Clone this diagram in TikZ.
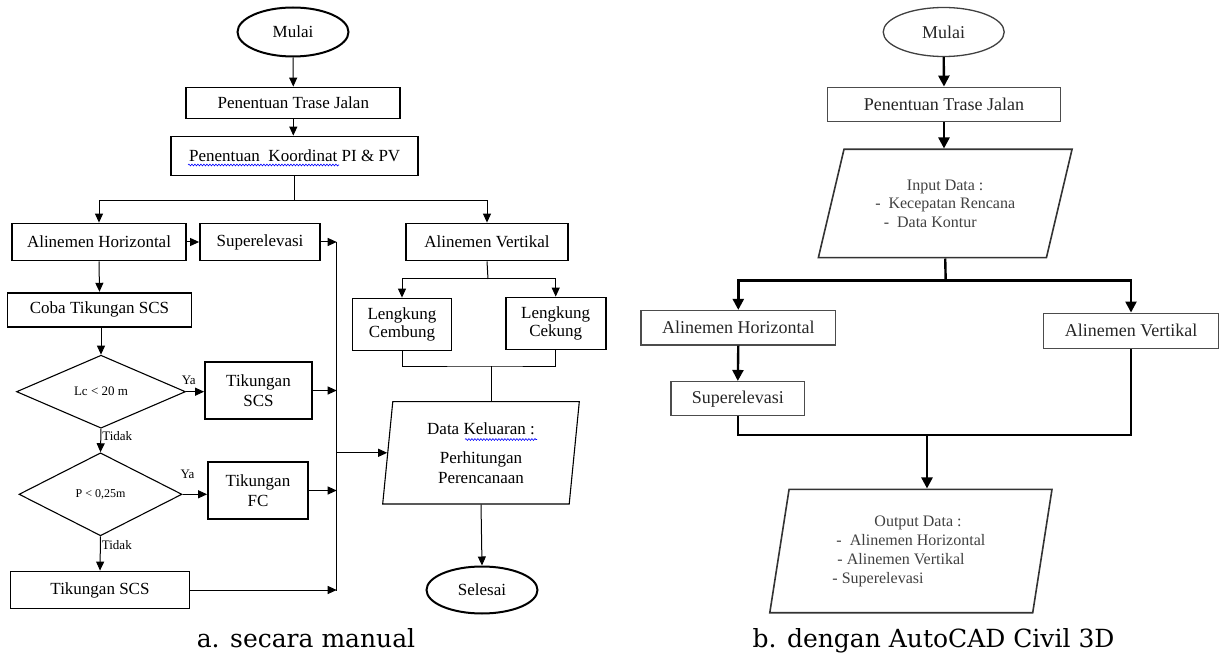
\documentclass[tikz,border=0pt]{standalone}
\usepackage{fontspec}
\setmainfont{Liberation Serif}
\newfontfamily\captionfont{DejaVu Serif}
\usetikzlibrary{shapes.geometric,arrows.meta,decorations.pathmorphing}
\tikzset{
    %chart a (manual)
    boxa/.style={draw, line width=1.8pt, inner sep=0pt, align=center, font=\fontsize{17}{20}\selectfont},
    terma/.style={ellipse, draw, line width=2pt, inner sep=0pt, font=\fontsize{17}{20}\selectfont},
    deca/.style={diamond, draw, line width=1.1pt, inner sep=0pt, font=\fontsize{13}{15}\selectfont},
    ioa/.style={trapezium, draw, line width=1.1pt, inner sep=0pt, trapezium stretches body, align=center, font=\fontsize{17}{20}\selectfont},
    linea/.style={line width=1pt},
    arra/.style={line width=1pt, -{Triangle[length=9pt,width=8pt]}},
    lbl/.style={font=\fontsize{13}{15}\selectfont, inner sep=1pt},
    spellwave/.style={blue, line width=0.6pt, decorate, decoration={snake, amplitude=0.9pt, segment length=3pt}},
    %chart b (civil 3d)
    boxb/.style={draw=black!70, line width=1.5pt, inner sep=0pt, text=black!85, font=\fontsize{18}{21}\selectfont},
    termb/.style={ellipse, draw=black!75, line width=1.3pt, inner sep=0pt, text=black!85, font=\fontsize{18}{21}\selectfont},
    iob/.style={trapezium, draw=black!80, line width=1.6pt, inner sep=0pt, trapezium stretches body, align=center, text=black!75, font=\fontsize{16}{18.5}\selectfont},
    lineb/.style={line width=2.4pt},
    arrb/.style={line width=2.4pt, -{Triangle[length=11pt,width=11pt]}},
    capt/.style={font=\captionfont\fontsize{25}{30}\selectfont, inner sep=0pt},
}
\begin{document}
\begin{tikzpicture}[x=1pt, y=-1pt]
        \useasboundingbox (0,0) rectangle (1219,655);
        %chart a: nodes
        \node[terma, minimum width=111, minimum height=49] (mulaiA) at (293,32) {Mulai};
        \node[boxa, minimum width=214, minimum height=31] (traseA) at (293.3,103) {Penentuan Trase Jalan};
        \node[boxa, minimum width=247, minimum height=39] (koorA) at (294.7,156) {Penentuan\ \ Koordinat PI \& PV};
        \node[boxa, minimum width=174, minimum height=37] (ahA) at (99,242) {Alinemen Horizontal};
        \node[boxa, minimum width=120, minimum height=37] (superA) at (260,242) {Superelevasi};
        \node[boxa, minimum width=162, minimum height=37] (avA) at (487,242) {Alinemen Vertikal};
        \node[boxa, minimum width=184, minimum height=34] (cobaA) at (99.5,309.7) {Coba Tikungan SCS};
        \node[deca, minimum width=169, minimum height=73] (dec1) at (101,391.7) {Lc < 20 m};
        \node[boxa, minimum width=107, minimum height=57] (tscsA) at (258.5,390.5) {Tikungan\\SCS};
        \node[deca, minimum width=163, minimum height=83, font=\fontsize{12}{14}\selectfont] (dec2) at (100.5,494.3) {P < 0,25m};
        \node[boxa, minimum width=100, minimum height=57] (tfcA) at (258,490.5) {Tikungan\\FC};
        \node[boxa, minimum width=179, minimum height=37] (tscs2A) at (100,590) {Tikungan SCS};
        \node[boxa, minimum width=99, minimum height=52, font=\fontsize{17}{18.5}\selectfont] (cembung) at (402,324.5) {Lengkung\\Cembung};
        \node[boxa, minimum width=100, minimum height=52, font=\fontsize{17}{18.5}\selectfont] (cekung) at (555.7,323.5) {Lengkung\\Cekung};
        \node[ioa, minimum width=196.6, minimum height=102.3, trapezium left angle=80.6, trapezium right angle=99.4] (keluaran) at (481,452.8) {Data Keluaran :\\[9pt]Perhitungan\\Perencanaan};
        \node[terma, minimum width=111, minimum height=47] (selesai) at (482,590) {Selesai};
        %spelling marks
        \draw[spellwave] (188,165) -- (339,165);
        \draw[spellwave] (465,439.5) -- (537,439.5);
        %chart a: connectors
        \draw[arra] (mulaiA.south) -- (traseA.north);
        \draw[arra] (traseA.south) -- (traseA.south |- koorA.north);
        \coordinate (brA) at (294.7,201);
        \draw[linea] (koorA.south) -- (brA);
        \draw[arra] (brA) -| (ahA.north);
        \draw[arra] (brA) -| (avA.north);
        \draw[arra] (ahA.east) -- (superA.west);
        \draw[arra] (ahA.south) -- (cobaA.north);
        \draw[arra] (dec1.north |- cobaA.south) -- (dec1.north);
        \draw[arra] (dec1.east) -- node[lbl, above=6pt, pos=0.15] {Ya} (dec1.east -| tscsA.west);
        \draw[arra] (dec1.south) -- node[lbl, right, pos=0.3] {Tidak} (dec2.north);
        \draw[arra] (dec2.east) -- node[lbl, above=14pt, pos=0.2] {Ya} (dec2.east -| tfcA.west);
        \draw[arra] (dec2.south) -- node[lbl, right, pos=0.25] {Tidak} (tscs2A.north);
        %collector line
        \coordinate (colA) at (336.7,242);
        \draw[linea] (colA) -- (336.7,590.7);
        \draw[arra] (superA.east) -- (colA);
        \draw[arra] (tscsA.east) -- (tscsA.east -| colA);
        \draw[arra] (tfcA.east) -- (tfcA.east -| colA);
        \draw[arra] (tscs2A.east) -- (tscs2A.east -| colA);
        \draw[arra] (keluaran.west -| colA) -- (keluaran.west);
        %lengkung branch
        \coordinate (lbrA) at (488,279);
        \draw[linea] (avA.south) -- (lbrA);
        \draw[arra] (lbrA) -| (cembung.north);
        \draw[arra] (lbrA) -| (cekung.north);
        \coordinate (lmrA) at (491,366);
        \draw[linea] (cembung.south) |- (lmrA) -| (cekung.south);
        \draw[linea] (lmrA) -- (lmrA |- keluaran.north);
        \draw[arra] (keluaran.south) -- (selesai.north);
        %chart b: nodes
        \node[termb, minimum width=121, minimum height=49] (mulaiB) at (943.7,32) {Mulai};
        \node[boxb, minimum width=233, minimum height=34.4] (traseB) at (944,104.5) {Penentuan Trase Jalan};
        \node[iob, minimum width=253.7, minimum height=108.4, trapezium left angle=61.7, trapezium right angle=118.3] (inputB) at (945.2,203.5) {Input Data :\\-\ \ Kecepatan Rencana\hspace*{14pt}\\-\ \ Data Kontur\hspace*{30pt}};
        \node[boxb, minimum width=194.7, minimum height=34.3] (ahB) at (738.3,327.8) {Alinemen Horizontal};
        \node[boxb, minimum width=175, minimum height=35] (avB) at (1131,330.8) {Alinemen Vertikal};
        \node[boxb, minimum width=133.5, minimum height=34] (superB) at (737.8,398.7) {Superelevasi};
        \node[iob, minimum width=282.2, minimum height=123.4, trapezium left angle=74.8, trapezium right angle=105.2, align=left, font=\fontsize{16}{19}\selectfont] (outputB) at (910.9,551) {\hspace*{38pt}Output Data :\\-\ \ Alinemen Horizontal\hspace*{12pt}\\\hspace*{1pt}-\ Alinemen Vertikal\\\hspace*{-4pt}- Superelevasi};
        %chart b: connectors
        \draw[arrb] (mulaiB.south) -- (traseB.north);
        \draw[arrb] (traseB.south) -- (traseB.south |- inputB.north);
        \coordinate (brB) at (945.7,280.7);
        \draw[lineb] (inputB.south) -- (brB);
        \draw[arrb] (brB) -| (ahB.north);
        \draw[arrb] (brB) -| (avB.north);
        \draw[arrb] (ahB.south) -- (superB.north);
        \coordinate (mrB) at (927,435);
        \draw[lineb] (superB.south) |- (mrB) -| (avB.south);
        \draw[arrb] (mrB) -- (mrB |- outputB.north);
        %captions
        \node[capt, anchor=base] (capA) at (306,647) {a. secara manual};
        \node[capt, anchor=base] (capB) at (933.5,647) {b. dengan AutoCAD Civil 3D};
    \end{tikzpicture}
\end{document}
